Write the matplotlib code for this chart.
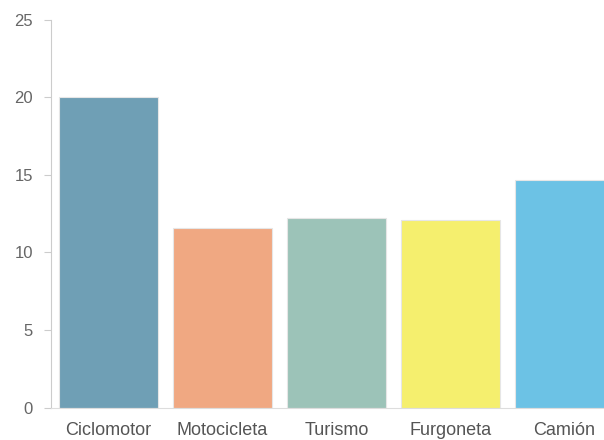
import matplotlib.pyplot as plt

categories = ['Ciclomotor', 'Motocicleta', 'Turismo', 'Furgoneta', 'Camión']
values = [20.0, 11.6, 12.25, 12.07, 14.65]
colors = ['#6f9fb5', '#f0a882', '#9cc3b8', '#f5ef6e', '#6cc2e5']


def main():
    plt.rcParams['font.family'] = ['Liberation Sans', 'DejaVu Sans']
    fig = plt.figure(figsize=(6.04, 4.40), dpi=100)
    ax = fig.add_axes([51 / 604, 32.3 / 440, 1 - 51 / 604, (407.7 - 19.7) / 440])

    x = list(range(len(categories)))
    ax.bar(x, values, width=0.868, color=colors, edgecolor='#e6e6e6', linewidth=0.8)

    ax.set_ylim(0, 25)
    ax.set_yticks([0, 5, 10, 15, 20, 25])
    ax.set_xlim(-0.504, 4.346)
    ax.set_xticks(x)
    ax.set_xticklabels(categories)

    for side in ['top', 'right']:
        ax.spines[side].set_visible(False)
    ax.spines['left'].set_color('#cccccc')
    ax.spines['bottom'].set_color('#dddddd')
    ax.tick_params(axis='y', length=5, color='#cccccc', pad=8, labelsize=12, labelcolor='#666666')
    ax.tick_params(axis='x', length=0, pad=10.5, labelsize=13, labelcolor='#555555')

    fig.savefig('out.png', dpi=100)


if __name__ == '__main__':
    main()
